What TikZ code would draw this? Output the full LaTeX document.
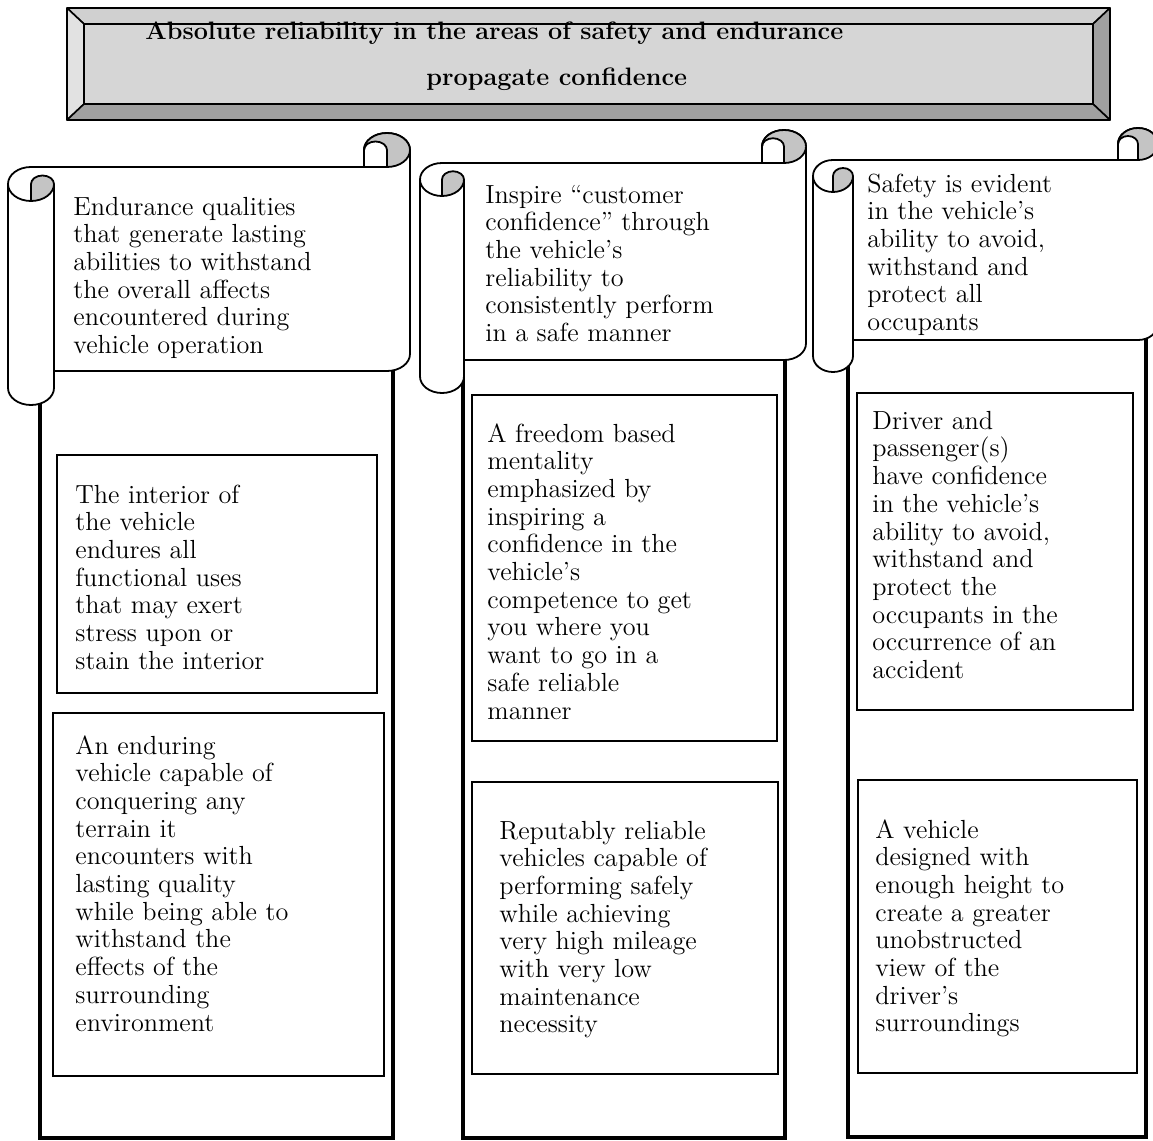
\documentclass[tikz,border=0pt]{standalone}
\usepackage{fontspec}
\usetikzlibrary{calc}

\definecolor{curlgray}{HTML}{C4C4C4}
\definecolor{panelgray}{HTML}{D6D6D6}
\definecolor{bevellight}{HTML}{E2E2E2}
\definecolor{bevelmid}{HTML}{D0D0D0}
\definecolor{beveldark}{HTML}{A0A0A0}

\newcommand\bodyfont{\fontsize{13.1}{13.85}\selectfont}
\newcommand\titlefont{\fontsize{12.6}{14}\selectfont\bfseries}
\newcommand\stack[1]{\begin{tabular}[t]{@{}l@{}}#1\end{tabular}}

\tikzset{
  outline/.style={draw=black, line width=0.9pt, line join=round},
  pillar/.style={draw=black, line width=2pt},
  textbox/.style={draw=black, line width=1pt, fill=white},
  bodytext/.style={anchor=base west, inner sep=0pt, font=\bodyfont},
  titletext/.style={anchor=base west, inner sep=0pt, font=\titlefont},
  bevel/.style={draw=black, line width=0.8pt, line join=round},
}

% Horizontal scroll banner: left, top, right, bottom, roll width, roll height
\newcommand\drawscroll[6]{%
  \pgfmathsetmacro\sL{#1}\pgfmathsetmacro\sT{#2}%
  \pgfmathsetmacro\sR{#3}\pgfmathsetmacro\sB{#4}%
  \pgfmathsetmacro\rx{#5/2}\pgfmathsetmacro\ry{#6/2}%
  \pgfmathsetmacro\qx{#5/4}\pgfmathsetmacro\qy{#6/4}%
  \pgfmathsetmacro\xc{\sR-#5}\pgfmathsetmacro\xd{\sR-#5/2}%
  \pgfmathsetmacro\yh{\sT+#6/2}\pgfmathsetmacro\yc{\sT+#6}%
  \pgfmathsetmacro\lc{\sL+#5/2}\pgfmathsetmacro\lr{\sL+#5}%
  \pgfmathsetmacro\yr{\sT+1.5*#6}\pgfmathsetmacro\yq{\sT+2*#6}%
  \pgfmathsetmacro\yb{\sB-#6}\pgfmathsetmacro\yd{\sB-#6/2}%
  \pgfmathsetmacro\ya{\sB-1.5*#6}%
  % silhouette
  \path[outline, fill=white] (\sL,\yr)
    arc[start angle=180, end angle=270, x radius=\rx, y radius=\ry]
    -- (\xc,\yc) -- (\xc,\yh)
    arc[start angle=180, end angle=360, x radius=\rx, y radius=\ry]
    -- (\sR,\ya)
    arc[start angle=0, end angle=90, x radius=\rx, y radius=\ry]
    -- (\lr,\yb) -- (\lr,\yd)
    arc[start angle=0, end angle=180, x radius=\rx, y radius=\ry]
    -- cycle;
  % shaded inside of the top-right curl
  \path[fill=curlgray] (\xd,\yc)
    arc[start angle=90, end angle=-180, x radius=\rx, y radius=\ry]
    arc[start angle=180, end angle=360, x radius=\qx, y radius=\qy]
    -- cycle;
  \draw[outline] (\xc,\yc) -- (\xd,\yc)
    arc[start angle=90, end angle=0, x radius=\rx, y radius=\ry];
  \draw[outline] (\xd,\yc) -- (\xd,\yh)
    arc[start angle=0, end angle=-180, x radius=\qx, y radius=\qy];
  \draw[outline] (\xc,\yh)
    arc[start angle=180, end angle=360, x radius=\rx, y radius=\ry];
  % shaded inside of the left roll
  \path[fill=curlgray] (\lc,\yq) -- (\lc,\yr)
    arc[start angle=180, end angle=360, x radius=\qx, y radius=\qy]
    arc[start angle=0, end angle=90, x radius=\rx, y radius=\ry]
    -- cycle;
  \draw[outline] (\lc,\yq) -- (\lc,\yr)
    arc[start angle=180, end angle=360, x radius=\qx, y radius=\qy]
    arc[start angle=0, end angle=180, x radius=\rx, y radius=\ry];
  \draw[outline] (\lr,\yr) -- (\lr,\yb);
}

\begin{document}
\begin{tikzpicture}[x=0.5pt, y=-0.5pt]
\useasboundingbox (0,0) rectangle (1153,1141);
\fill[white] (0,0) rectangle (1153,1141);
\clip (0,0) rectangle (1153,1141);

% ---------- title plate ----------
\fill[panelgray] (84,24) rectangle (1093,104);
\filldraw[bevel, fill=bevelmid]   (67,8) -- (1110,8) -- (1093,24) -- (84,24) -- cycle;
\filldraw[bevel, fill=bevellight] (67,8) -- (84,24) -- (84,104) -- (67,120) -- cycle;
\filldraw[bevel, fill=beveldark]  (1110,8) -- (1110,120) -- (1093,104) -- (1093,24) -- cycle;
\filldraw[bevel, fill=beveldark]  (67,120) -- (1110,120) -- (1093,104) -- (84,104) -- cycle;
\draw[bevel] (84,24) rectangle (1093,104);
\node[titletext] (title1) at (145,39) {Absolute reliability in the areas of safety and endurance};
\node[titletext] (title2) at (426,85) {propagate confidence};

% ---------- pillars ----------
\draw[pillar] (40,300) rectangle (393,1138);
\draw[pillar] (463,300) rectangle (785,1138);
\draw[pillar] (848,300) rectangle (1146,1137);

% ---------- scroll banners ----------
\drawscroll{8}{133}{410}{405}{46}{34}
\drawscroll{420}{130}{806}{393}{44}{33}
\drawscroll{813}{128}{1158}{372}{40}{32}

\node[bodytext] (endurance) at (73,215) {\stack{Endurance qualities\\that generate lasting\\abilities to withstand\\the overall affects\\encountered during\\vehicle operation}};
\node[bodytext] (confidence) at (485,203) {\stack{Inspire ``customer\\confidence'' through\\the vehicle's\\reliability to\\consistently perform\\in a safe manner}};
\node[bodytext] (safety) at (867,192) {\stack{Safety is evident\\in the vehicle's\\ability to avoid,\\withstand and\\protect all\\occupants}};

% ---------- detail boxes ----------
\draw[textbox] (57,455) rectangle (377,693);
\node[bodytext] (interior) at (75,503) {\stack{The interior of\\the vehicle\\endures all\\functional uses\\that may exert\\stress upon or\\stain the interior}};

\draw[textbox] (53,713) rectangle (384,1076);
\node[bodytext] (terrain) at (75,754) {\stack{An enduring\\vehicle capable of\\conquering any\\terrain it\\encounters with\\lasting quality\\while being able to\\withstand the\\effects of the\\surrounding\\environment}};

\draw[textbox] (472,395) rectangle (777,741);
\node[bodytext] (freedom) at (487,442) {\stack{A freedom based\\mentality\\emphasized by\\inspiring a\\confidence in the\\vehicle's\\competence to get\\you where you\\want to go in a\\safe reliable\\manner}};

\draw[textbox] (472,782) rectangle (778,1074);
\node[bodytext] (mileage) at (499,839) {\stack{Reputably reliable\\vehicles capable of\\performing safely\\while achieving\\very high mileage\\with very low\\maintenance\\necessity}};

\draw[textbox] (857,393) rectangle (1133,710);
\node[bodytext] (occupants) at (872,429) {\stack{Driver and\\passenger(s)\\have confidence\\in the vehicle's\\ability to avoid,\\withstand and\\protect the\\occupants in the\\occurrence of an\\accident}};

\draw[textbox] (858,780) rectangle (1137,1073);
\node[bodytext] (height) at (875,838) {\stack{A vehicle\\designed with\\enough height to\\create a greater\\unobstructed\\view of the\\driver's\\surroundings}};
\end{tikzpicture}
\end{document}
